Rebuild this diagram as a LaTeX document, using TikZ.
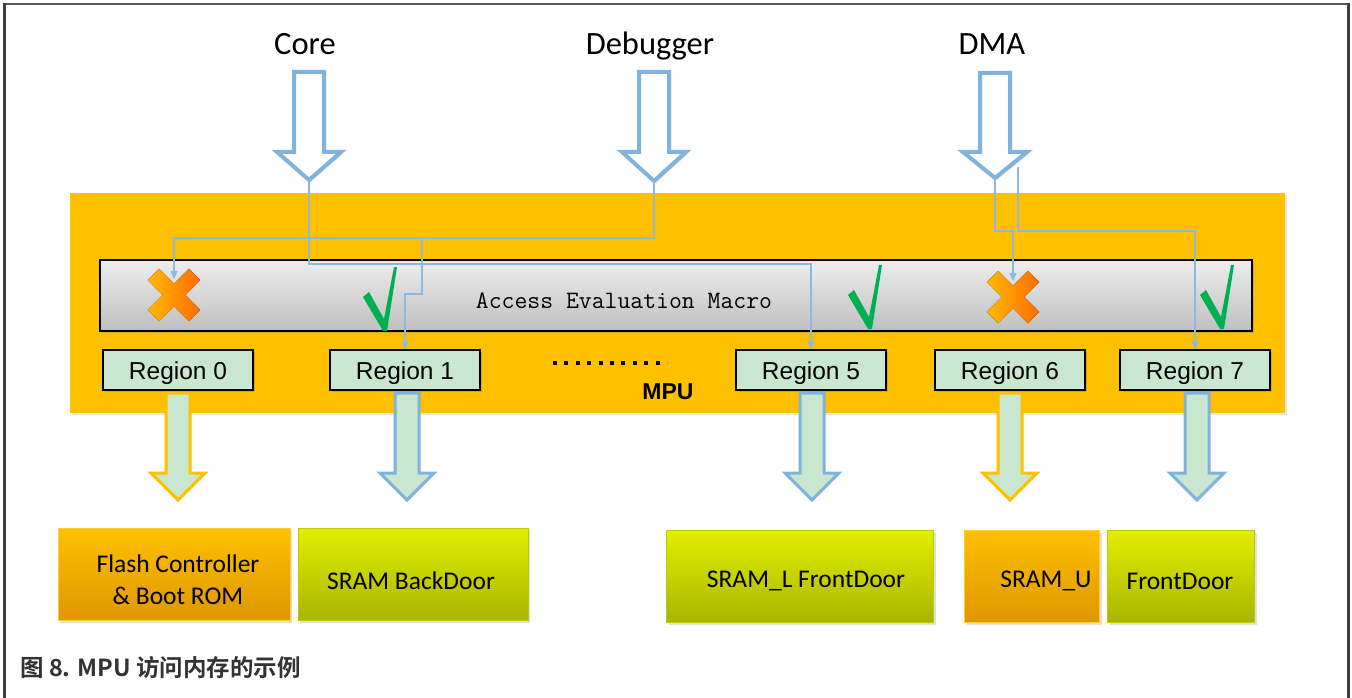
\documentclass[tikz,border=0pt]{standalone}
\usepackage{fontspec}
\usetikzlibrary{arrows.meta,shadows}
\newfontfamily\calibri{Carlito}
\newfontfamily\arial{Liberation Sans}
\newfontfamily\cjk{Noto Sans CJK SC}[BoldFont={Noto Sans CJK SC Bold}]
\definecolor{mpuorange}{HTML}{FFC000}
\definecolor{regfill}{HTML}{C9E7CE}
\definecolor{flowblue}{HTML}{7FB2DC}
\definecolor{linkblue}{HTML}{8AB9E1}
\definecolor{okgreen}{HTML}{00B050}
\definecolor{memorange}{HTML}{FFC000}
\definecolor{memorangedk}{HTML}{DE9700}
\definecolor{memlime}{HTML}{E3EE00}
\definecolor{memlimedk}{HTML}{A9B500}
\definecolor{framegray}{HTML}{3F3F3F}
\tikzset{
  x=1pt, y=-1pt,
  region/.style={draw=black, line width=1.2pt, fill=regfill, minimum width=150pt,
    minimum height=40pt, inner sep=0pt, text height=18pt, text depth=0pt,
    font=\arial\fontsize{24.5}{28}\selectfont,
    drop shadow={shadow xshift=2pt, shadow yshift=-2pt, opacity=.35}},
  membox/.style={minimum height=92pt, inner sep=0pt, line width=0.8pt,
    drop shadow={shadow xshift=2pt, shadow yshift=-3pt, opacity=.25}},
  orangemem/.style={membox, draw=memorange!80!white, top color=memorange, bottom color=memorangedk},
  limemem/.style={membox, draw=memlime!85!black, top color=memlime, bottom color=memlimedk},
  memtext/.style={font=\calibri\fontsize{25.5}{31}\selectfont, align=center, inner sep=0pt},
  srclabel/.style={font=\calibri\fontsize{32.5}{38}\selectfont, inner sep=0pt, anchor=base},
  inflow/.style={draw=flowblue, line width=4pt, fill=white, line join=miter,
    drop shadow={shadow xshift=2pt, shadow yshift=-2pt, opacity=.2}},
  outflow/.style={line width=3pt, fill=regfill, line join=miter},
  link/.style={draw=linkblue, line width=1.3pt,
    -{Triangle[length=8pt,width=7pt]}},
}
% hollow block arrow pointing down, tip at (#1,#3)
\newcommand{\srcarrow}[3]{%
  \draw[inflow] (#1-15,#2) -- (#1+15,#2) -- (#1+15,152) -- (#1+32,152)
    -- (#1,#3) -- (#1-32,152) -- (#1-15,152) -- cycle;}
% filled block arrow from a region down to memory
\newcommand{\memarrow}[2]{%
  \draw[outflow,draw=#2] (#1-12,393) -- (#1+12,393) -- (#1+12,473) -- (#1+27,473)
    -- (#1,500) -- (#1-27,473) -- (#1-12,473) -- cycle;}
% orange cross (denied)
\newcommand{\denymark}[2]{%
  \begin{scope}[shift={(#1,#2)}]
    \fill[rotate=45, left color=mpuorange!90!orange, right color=orange!85!red]
      (-8,-29) -- (8,-29) -- (8,-8) -- (29,-8) -- (29,8) -- (8,8) -- (8,29)
      -- (-8,29) -- (-8,8) -- (-29,8) -- (-29,-8) -- (-8,-8) -- cycle;
  \end{scope}}
% green check (granted), origin at bottom point
\newcommand{\grantmark}[2]{%
  \fill[okgreen, shift={(#1,#2)}] (-23,-33) -- (-17,-38) -- (-2,-11) -- (8,-63)
    -- (11,-63) -- (1,1) -- (-3,1) -- cycle;}
\begin{document}
\begin{tikzpicture}
\useasboundingbox (0,0) rectangle (1352,698);
\fill[white] (0,0) rectangle (1352,698);
% outer frame
\draw[gray!70!black, line width=2.5pt] (3,4) -- (1350,4);
\draw[framegray, line width=3pt] (4.5,3) -- (4.5,698);
\draw[framegray, line width=3pt] (1348.5,3) -- (1348.5,698);

% MPU block
\node[fill=mpuorange, minimum width=1215pt, minimum height=220pt, inner sep=0pt,
  drop shadow={shadow xshift=2pt, shadow yshift=-2pt, opacity=.2}]
  (mpu) at (677.5,303) {};
\node[draw=black, line width=1.3pt, top color=gray!14, bottom color=gray!50,
  minimum width=1152pt, minimum height=71pt, inner sep=0pt,
  drop shadow={shadow xshift=2pt, shadow yshift=-2pt, opacity=.3}]
  (aem) at (676,295.5) {};
\node[font=\ttfamily\fontsize{25}{29}\selectfont, inner sep=0pt, text=black] (aemtext) at (624,301)
  {Access Evaluation Macro};

% check results
\denymark{174}{295}
\grantmark{386}{330}
\grantmark{871}{328}
\denymark{1013}{297}
\grantmark{1223}{328}

% regions
\node[region] (r0) at (178,370) {Region 0};
\node[region] (r1) at (405,370) {Region 1};
\node[region] (r5) at (811,370) {Region 5};
\node[region] (r6) at (1010,370) {Region 6};
\node[region] (r7) at (1195,370) {Region 7};
\draw[line width=4pt, dash pattern=on 4pt off 7.4pt] (553,363) -- (667,363);
\node[font=\arial\bfseries\fontsize{23}{27}\selectfont, inner sep=0pt] (mpulabel) at (668,392) {MPU};

% bus masters
\node[srclabel] (core) at (305,55) {Core};
\node[srclabel] (dbg) at (650,55) {Debugger};
\node[srclabel] (dma) at (992,55) {DMA};
\srcarrow{309}{72}{180}
\srcarrow{654}{72}{181}
\srcarrow{995}{73}{178}
\coordinate (coretip) at (309,180);
\coordinate (dbgtip) at (654,181);
\coordinate (dmatip) at (995,178);
\coordinate (dmaside) at (1018,167);
\coordinate (dbgsplit) at (422,238);
\coordinate (x0in) at (174,279);
\coordinate (x6in) at (1013,281);

% access paths
\draw[link] (coretip) -- ++(0,84) -| (r5.north);
\draw[link] (dbgtip) |- (dbgsplit) -| (x0in);
\draw[link] (dbgsplit) -- ++(0,56) -| (r1.north);
\draw[link] (dmatip) -- ++(0,53) -| (x6in);
\draw[link] (dmaside) -- ++(0,64) -| (r7.north);

% region outputs
\memarrow{178}{mpuorange}
\memarrow{407}{flowblue}
\memarrow{812}{flowblue}
\memarrow{1010}{mpuorange}
\memarrow{1197}{flowblue}

% memories
\node[orangemem, minimum width=232pt] (flash) at (174,574) {};
\node[memtext] at (178,580) {Flash Controller\\[1pt]\& Boot ROM};
\node[limemem, minimum width=230pt] (sbd) at (413,574) {};
\node[memtext] at (411,581) {SRAM BackDoor};
\node[limemem, minimum width=267pt] (sfd) at (800,576) {};
\node[memtext] at (806,581) {SRAM\_L FrontDoor};
\node[orangemem, minimum width=135pt] (su) at (1032,576) {};
\node[memtext] at (1046,581) {SRAM\_U};
\node[limemem, minimum width=147pt] (fd) at (1181,576) {};
\node[memtext] at (1180,581) {FrontDoor};

% caption
\node[anchor=west, inner sep=0pt, text=black!80, font=\cjk\bfseries\fontsize{23.5}{27}\selectfont]
  (caption) at (20,668) {图 8. MPU 访问内存的示例};
\end{tikzpicture}
\end{document}
